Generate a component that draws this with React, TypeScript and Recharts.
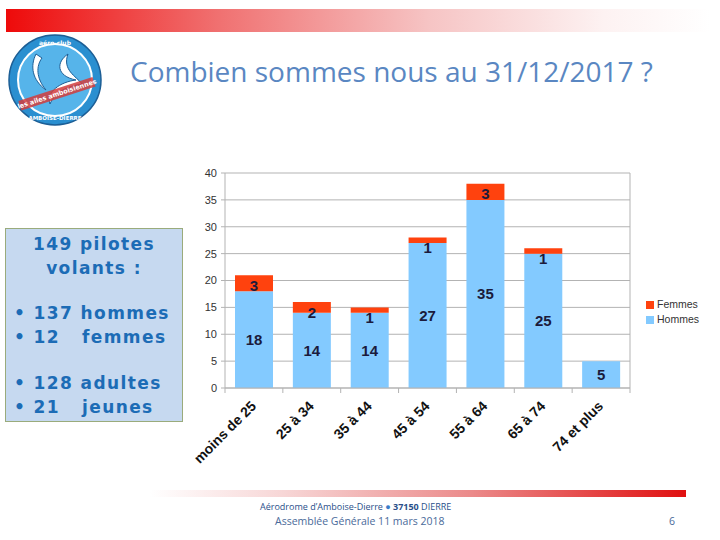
import React from 'react';
import { BarChart, Bar, XAxis, YAxis, CartesianGrid, LabelList } from 'recharts';

const categories = ['moins de 25', '25 à 34', '35 à 44', '45 à 54', '55 à 64', '65 à 74', '74 et plus'];
const hommes = [18, 14, 14, 27, 35, 25, 5];
const femmes = [3, 2, 1, 1, 3, 1, 0];
const yTicks = [0, 5, 10, 15, 20, 25, 30, 35, 40];

const data = categories.map((c, i) => ({ age: c, Hommes: hommes[i], Femmes: femmes[i] }));

const BLUE = '#83CAFF';
const RED = '#FF420E';
const GRID = '#b3b3b3';
const LABEL_FONT = '"Liberation Sans", Arial, sans-serif';

function AgeTick(props: any) {
  const { x, y, payload, index, visibleTicksCount } = props;
  const half = payload && payload.offset ? payload.offset : 29;
  const ax = x + 3;
  const ay = y + 19;
  return (
    <g>
      <line x1={x - half} x2={x - half} y1={y} y2={y + 5} stroke={GRID} />
      {index === visibleTicksCount - 1 && (
        <line x1={x + half} x2={x + half} y1={y} y2={y + 5} stroke={GRID} />
      )}
      <text
        x={ax}
        y={ay}
        transform={`rotate(-45, ${ax}, ${ay})`}
        textAnchor="end"
        fontFamily={LABEL_FONT}
        fontWeight="bold"
        fontSize={14}
        fill="#111"
      >
        {payload.value}
      </text>
    </g>
  );
}

function centerLabel(props: any) {
  const { x, y, width, height, value } = props;
  if (!value) return null;
  return (
    <text
      x={x + width / 2}
      y={y + height / 2}
      textAnchor="middle"
      dominantBaseline="central"
      fontFamily={LABEL_FONT}
      fontWeight="bold"
      fontSize={15}
      fill="#1b1b3c"
    >
      {value}
    </text>
  );
}

function topLabel(props: any) {
  const { x, y, width, value } = props;
  if (!value) return null;
  return (
    <text
      x={x + width / 2}
      y={y + 10}
      textAnchor="middle"
      dominantBaseline="central"
      fontFamily={LABEL_FONT}
      fontWeight="bold"
      fontSize={15}
      fill="#1b1b3c"
    >
      {value}
    </text>
  );
}

function Logo() {
  return (
    <svg width={100} height={96} style={{ position: 'absolute', left: 6, top: 32 }}>
      <ellipse cx={49} cy={48} rx={46} ry={45} fill="#2a8fd0" stroke="#1c5e95" strokeWidth={1.5} />
      <ellipse cx={49} cy={48} rx={37} ry={36} fill="#56b4ea" stroke="#ffffff" strokeWidth={2} />
      <path d="M30 22 C24 34 26 48 40 58 C30 46 30 34 36 26 Z" fill="#ffffff" stroke="#1c5e95" strokeWidth={1} />
      <path d="M62 22 C50 30 50 44 70 48 C54 50 40 60 44 72 C48 60 62 54 76 52 C70 44 56 38 62 22 Z" fill="#ffffff" stroke="#1c5e95" strokeWidth={1} />
      <text x={49} y={13} textAnchor="middle" fontSize={6} fontWeight="bold" fill="#ffffff" fontFamily="DejaVu Sans">aéro-club</text>
      <g transform="rotate(-18, 50, 62)">
        <rect x={12} y={57} width={78} height={10} fill="#d23c3c" opacity={0.85} />
        <text x={51} y={64.5} textAnchor="middle" fontSize={6.5} fontWeight="bold" fill="#ffffff" fontFamily="DejaVu Sans">les ailes amboisiennes</text>
      </g>
      <text x={49} y={88} textAnchor="middle" fontSize={5.5} fontWeight="bold" fill="#ffffff" fontFamily="DejaVu Sans">AMBOISE-DIERRE</text>
    </svg>
  );
}

export default function App() {
  const boxText: React.CSSProperties = {
    fontFamily: '"DejaVu Sans", Verdana, sans-serif',
    fontWeight: 'bold',
    fontSize: 17,
    color: '#1c6cb6',
    lineHeight: '24px',
    letterSpacing: 1.4,
    whiteSpace: 'pre',
  };
  return (
    <div style={{ position: 'absolute', left: 0, top: 0, width: 720, height: 540, background: '#ffffff', overflow: 'hidden' }}>
      <div
        style={{
          position: 'absolute',
          left: 6,
          top: 9,
          width: 704,
          height: 23,
          background: 'linear-gradient(to right, #ee0a0a 0%, #f07070 30%, #f6c4c4 60%, #fdf2f2 85%, #ffffff 100%)',
        }}
      />
      <Logo />
      <div
        style={{
          position: 'absolute',
          left: 130,
          top: 57,
          fontFamily: '"Open Sans", "Noto Sans", sans-serif',
          fontSize: 28,
          lineHeight: '28px',
          color: '#5a87c2',
          whiteSpace: 'nowrap',
        }}
      >
        Combien sommes nous au 31/12/2017 ?
      </div>

      <div
        style={{
          position: 'absolute',
          left: 5,
          top: 228,
          width: 178,
          height: 194,
          background: '#c6d9f0',
          border: '1px solid #9aab7c',
          boxSizing: 'border-box',
        }}
      >
        <div style={{ ...boxText, position: 'absolute', left: 0, width: 176, top: 3, textAlign: 'center' }}>
          {'149 pilotes\nvolants :'}
        </div>
        <div style={{ ...boxText, position: 'absolute', left: 8, top: 72 }}>{'• 137 hommes\n• 12   femmes'}</div>
        <div style={{ ...boxText, position: 'absolute', left: 8, top: 142 }}>{'• 128 adultes\n• 21   jeunes'}</div>
      </div>

      <div style={{ position: 'absolute', left: 150, top: 160 }}>
        <BarChart
          width={490}
          height={320}
          data={data}
          margin={{ top: 13, right: 10, left: 45, bottom: 20 }}
          barSize={38}
        >
          <CartesianGrid stroke={GRID} vertical={true} verticalPoints={[480]} />
          <XAxis
            dataKey="age"
            axisLine={{ stroke: GRID }}
            tickLine={false}
            tickSize={0}
            tickMargin={0}
            interval={0}
            height={72}
            tick={<AgeTick />}
          />
          <YAxis
            domain={[0, 40]}
            ticks={yTicks}
            width={30}
            axisLine={{ stroke: GRID }}
            tickLine={{ stroke: GRID }}
            tickSize={4}
            tickMargin={4}
            tick={{ fontFamily: LABEL_FONT, fontSize: 11, fill: '#333' }}
          />
          <Bar dataKey="Hommes" stackId="a" fill={BLUE} isAnimationActive={false}>
            <LabelList dataKey="Hommes" content={centerLabel} />
          </Bar>
          <Bar dataKey="Femmes" stackId="a" fill={RED} isAnimationActive={false}>
            <LabelList dataKey="Femmes" content={topLabel} />
          </Bar>
        </BarChart>
      </div>

      <div style={{ position: 'absolute', left: 646, top: 297, fontFamily: LABEL_FONT, fontSize: 10.5, color: '#333', lineHeight: '15px' }}>
        <div style={{ display: 'flex', alignItems: 'center' }}>
          <span style={{ display: 'inline-block', width: 8, height: 8, background: RED, marginRight: 3 }} />
          Femmes
        </div>
        <div style={{ display: 'flex', alignItems: 'center' }}>
          <span style={{ display: 'inline-block', width: 8, height: 8, background: BLUE, marginRight: 3 }} />
          Hommes
        </div>
      </div>

      <div
        style={{
          position: 'absolute',
          left: 150,
          top: 490,
          width: 536,
          height: 7,
          background: 'linear-gradient(to right, #ffffff 0%, #f7d6d6 25%, #eb8a8a 60%, #e01010 100%)',
        }}
      />
      <div style={{ position: 'absolute', left: 260, top: 500, fontFamily: '"Open Sans", sans-serif', fontSize: 9, color: '#2a4f8a', whiteSpace: 'nowrap' }}>
        Aérodrome d’Amboise-Dierre <span style={{ color: '#3a7cc8' }}>●</span> <b>37150</b> DIERRE
      </div>
      <div style={{ position: 'absolute', left: 275, top: 514, fontFamily: '"Open Sans", sans-serif', fontSize: 10.5, color: '#4a6a9a', whiteSpace: 'nowrap' }}>
        Assemblée Générale 11 mars 2018
      </div>
      <div style={{ position: 'absolute', left: 669, top: 514, fontFamily: '"Open Sans", sans-serif', fontSize: 10.5, color: '#4a6a9a' }}>
        6
      </div>
    </div>
  );
}
